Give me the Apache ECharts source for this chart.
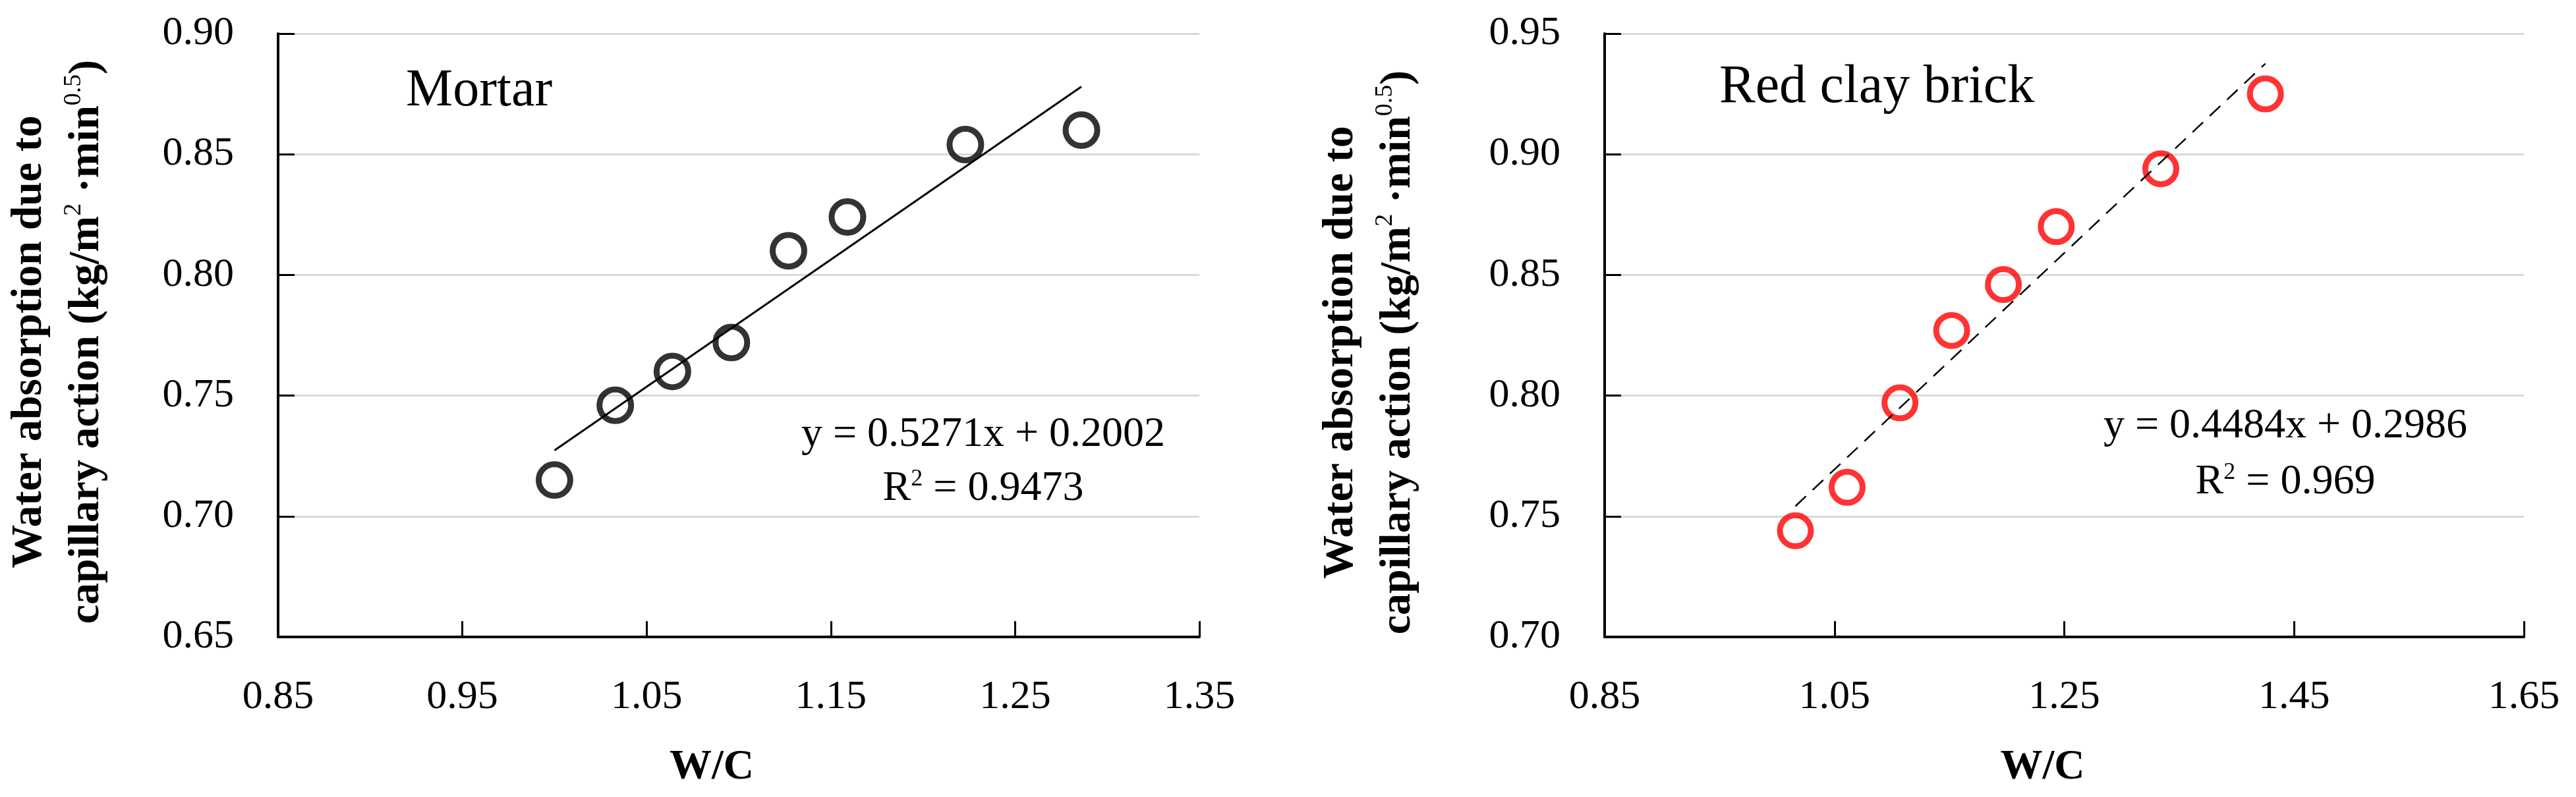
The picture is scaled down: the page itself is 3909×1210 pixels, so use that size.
<!DOCTYPE html>
<html>
<head>
<meta charset="utf-8">
<title>W/C vs capillary water absorption</title>
<script src="https://cdn.jsdelivr.net/npm/echarts@6/dist/echarts.min.js"></script>
<style>
  html, body { margin: 0; padding: 0; background: #fff; }
  #chart { width: 3909px; height: 1210px; }
</style>
</head>
<body>
<div id="chart"></div>
<script>
// values
const mortarWC = [1.000, 1.033, 1.064, 1.096, 1.127, 1.159, 1.223, 1.286];
const mortarAbs = [0.715, 0.746, 0.760, 0.772, 0.810, 0.824, 0.854, 0.860];
const brickWC = [1.016, 1.061, 1.107, 1.152, 1.197, 1.243, 1.334, 1.425];
const brickAbs = [0.744, 0.762, 0.797, 0.827, 0.846, 0.870, 0.894, 0.925];

// linear trendlines [slope, intercept] as printed on the chart
const mortarFit = [0.5271, 0.2002];
const brickFit = [0.4484, 0.2986];
const mortarEq = ['y = 0.5271x + 0.2002', '0.9473'];
const brickEq = ['y = 0.4484x + 0.2986', '0.969'];

// axis ranges
const mortarX = [0.85, 1.35, 0.1];
const mortarY = [0.65, 0.90, 0.05];
const brickX = [0.85, 1.65, 0.2];
const brickY = [0.70, 0.95, 0.05];

const serif = '"Liberation Serif", "Times New Roman", serif';

function pairs(xs, ys) {
    return xs.map((x, i) => [x, ys[i]]);
}

function trend(xs, fit) {
    const lo = Math.min(...xs), hi = Math.max(...xs);
    return [[lo, fit[0] * lo + fit[1]], [hi, fit[0] * hi + fit[1]]];
}

const yTitle = '{t|Water absorption due to}\n{t|capillary action (kg/m}{s|2}{t| ·min}{s|0.5}{t|)}';
const yTitleRich = {
    t: { fontFamily: serif, fontWeight: 'bold', fontSize: 66, lineHeight: 87, color: '#000' },
    s: { fontFamily: serif, fontWeight: 'normal', fontSize: 38, verticalAlign: 'middle', padding: [0, 0, 38, 0], color: '#000' }
};

function xAxis(idx, range, shift) {
    return {
        type: 'value', gridIndex: idx,
        min: range[0], max: range[1], interval: range[2],
        name: 'W/C', nameLocation: 'middle', nameGap: 166,
        nameTextStyle: { fontFamily: serif, fontWeight: 'bold', fontSize: 64, color: '#000', padding: [0, shift, 0, 0] },
        axisLine: { show: true, onZero: false, lineStyle: { color: '#000', width: 4 } },
        axisTick: { show: true, inside: true, length: 24, lineStyle: { color: '#000', width: 3 } },
        axisLabel: {
            fontFamily: serif, fontSize: 62, color: '#000', margin: 61,
            showMinLabel: true, showMaxLabel: true,
            formatter: v => v.toFixed(2)
        },
        splitLine: { show: false }
    };
}

function yAxis(idx, range, gap, down) {
    return {
        type: 'value', gridIndex: idx,
        min: range[0], max: range[1], interval: range[2],
        name: yTitle, nameLocation: 'middle', nameGap: gap, nameRotate: 90,
        nameTextStyle: { fontFamily: serif, fontWeight: 'bold', fontSize: 66, lineHeight: 87, color: '#000', rich: yTitleRich, padding: [0, down, 0, 0] },
        axisLine: { show: true, onZero: false, lineStyle: { color: '#000', width: 4 } },
        axisTick: { show: true, inside: true, length: 25, lineStyle: { color: '#000', width: 3 } },
        axisLabel: {
            fontFamily: serif, fontSize: 62, color: '#000', margin: 67,
            showMinLabel: true, showMaxLabel: true,
            formatter: v => v.toFixed(2)
        },
        splitLine: { show: true, lineStyle: { color: '#d9d9d9', width: 3 } }
    };
}

function note(x, y, text, size, align) {
    return {
        type: 'text', x: x, y: y, z: 50,
        style: {
            text: text, fill: '#000',
            fontFamily: serif, fontSize: size,
            textAlign: align, align: align,
            textVerticalAlign: 'middle', verticalAlign: 'middle',
            rich: {
                sup: { fontFamily: serif, fontSize: 36, lineHeight: 40, verticalAlign: 'top', fill: '#000', color: '#000' }
            }
        }
    };
}

const option = {
    animation: false,
    backgroundColor: '#fff',
    grid: [
        { left: 419, right: 2089, top: 51, bottom: 243 },
        { left: 2435, right: 79, top: 51, bottom: 243 }
    ],
    xAxis: [xAxis(0, mortarX, 82), xAxis(1, brickX, 66)],
    yAxis: [yAxis(0, mortarY, 247, 20), yAxis(1, brickY, 270, 52)],
    series: [
        {
            type: 'line', xAxisIndex: 0, yAxisIndex: 0,
            data: trend(mortarWC, mortarFit),
            symbol: 'none', silent: true, z: 3,
            lineStyle: { color: '#000', width: 3 }
        },
        {
            type: 'scatter', xAxisIndex: 0, yAxisIndex: 0,
            data: pairs(mortarWC, mortarAbs),
            symbol: 'circle', symbolSize: 48, z: 2,
            itemStyle: { color: 'rgba(0,0,0,0)', borderColor: '#000', borderWidth: 9 }
        },
        {
            type: 'line', xAxisIndex: 1, yAxisIndex: 1,
            data: trend(brickWC, brickFit),
            symbol: 'none', silent: true, z: 3,
            lineStyle: { color: '#000', width: 2.5, type: [22, 14] }
        },
        {
            type: 'scatter', xAxisIndex: 1, yAxisIndex: 1,
            data: pairs(brickWC, brickAbs),
            symbol: 'circle', symbolSize: 47, z: 2,
            itemStyle: { color: 'rgba(0,0,0,0)', borderColor: '#ff0000', borderWidth: 9 }
        }
    ],
    graphic: [
        note(616, 139, 'Mortar', 80, 'left'),
        note(1492, 660, mortarEq[0], 64, 'center'),
        note(1492, 742, 'R{sup|2} = ' + mortarEq[1], 64, 'center'),
        note(2609, 133, 'Red clay brick', 82, 'left'),
        note(3468, 647, brickEq[0], 64, 'center'),
        note(3468, 732, 'R{sup|2} = ' + brickEq[1], 64, 'center')
    ]
};

const chart = echarts.init(document.getElementById('chart'));
chart.setOption(option);
</script>
</body>
</html>
